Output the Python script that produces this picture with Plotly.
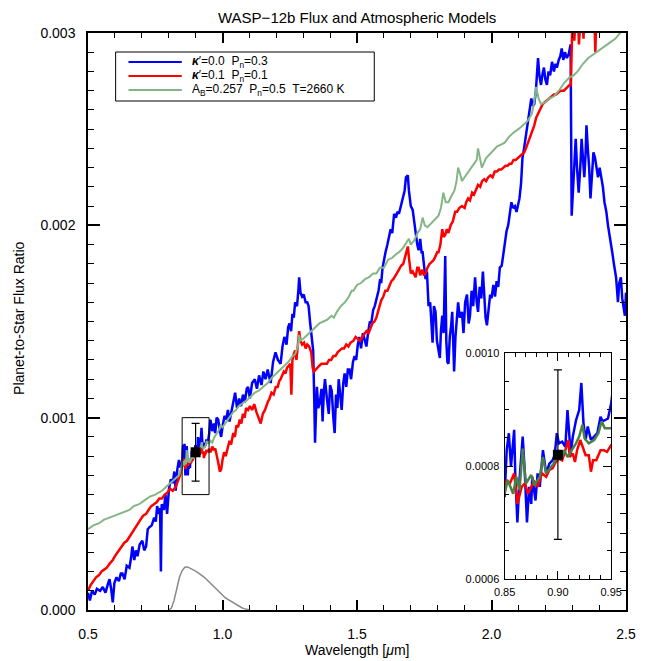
import plotly.graph_objects as go
import numpy as np

# ---------------- data (flux values in units of 1e-3) ----------------
BLUE_WL = [0.500,0.507,0.515,0.525,0.533,0.545,0.555,0.565,0.575,0.580,0.586,0.592,0.598,0.606,0.615,0.622,0.628,0.636,0.644,0.654,
0.660,0.665,0.672,0.678,0.684,0.692,0.702,0.709,0.716,0.722,0.728,0.737,0.746,0.752,0.757,0.764,0.768,0.771,0.774,0.782,
0.788,0.794,0.801,0.808,0.815,0.821,0.826,0.832,0.838,0.844,0.849,
0.850,0.852,0.854,0.856,0.859,0.860,0.862,0.864,0.867,0.869,0.871,0.873,0.875,0.876,0.879,0.881,0.883,0.886,0.889,0.892,
0.895,0.897,0.899,0.901,0.904,0.907,0.909,0.912,0.914,0.917,0.920,0.922,0.924,0.926,0.928,0.931,0.934,0.937,0.940,0.942,
0.944,0.947,0.950,
0.955,0.962,0.968,0.973,0.978,0.984,0.990,0.995,1.002,1.008,1.014,1.020,1.026,1.032,1.040,1.047,1.054,1.062,1.069,1.076,
1.083,1.090,1.095,1.102,1.110,1.120,1.128,1.136,1.145,1.152,1.160,1.168,1.174,1.179,1.188,1.197,1.206,1.216,1.223,1.230,
1.238,1.244,1.249,1.255,1.260,1.265,1.270,1.277,1.282,1.285,1.290,1.296,1.302,1.309,1.315,1.320,1.326,1.332,1.337,1.341,
1.344,1.348,1.351,1.356,1.362,1.368,1.372,1.377,1.381,1.388,1.395,1.400,1.406,1.412,1.417,1.422,1.427,1.432,1.438,1.443,
1.449,1.454,1.460,1.466,1.472,1.478,1.485,1.491,1.497,1.503,1.509,1.515,1.522,1.528,1.535,1.542,1.548,1.553,1.560,1.566,
1.572,1.580,1.586,1.590,1.595,1.600,1.606,1.613,1.620,1.625,1.631,1.638,1.645,1.650,1.656,1.663,1.671,1.677,1.682,1.689,
1.693,1.700,1.707,1.712,1.718,1.724,1.729,1.735,1.740,1.744,1.750,1.755,1.760,1.766,1.772,1.776,1.781,1.786,1.792,1.797,
1.803,1.808,1.812,1.817,1.822,1.828,1.832,1.836,1.840,1.845,1.850,1.854,1.858,1.861,1.866,1.871,1.876,1.882,1.890,1.896,
1.902,1.909,1.915,1.920,1.926,1.932,1.939,1.945,1.950,1.956,1.962,1.968,1.973,1.978,1.983,1.990,1.995,2.000,2.007,2.013,
2.019,2.025,2.031,2.038,2.044,2.050,2.056,2.062,2.068,2.074,2.080,2.087,2.093,2.098,2.104,2.110,2.115,2.121,2.127,2.133,
2.140,2.148,2.154,2.159,2.165,2.170,2.173,2.178,2.184,2.190,2.195,2.200,2.206,2.212,2.218,2.225,2.232,2.238,2.243,2.250,
2.256,2.261,2.267,2.273,2.280,2.287,2.294,2.298,2.302,2.307,2.313,2.318,2.324,2.330,2.335,2.340,2.345,2.350,2.353,2.358,
2.363,2.368,2.373,2.379,2.385,2.390,2.396,2.402,2.408,2.414,2.420,2.427,2.433,2.439,2.445,2.450,2.455,2.460,2.463,2.467,
2.470,2.475,2.481,2.486,2.490,2.496,2.500]
BLUE_F = [0.09,0.05,0.10,0.08,0.11,0.10,0.12,0.09,0.14,0.16,0.11,0.04,0.14,0.17,0.15,0.19,0.19,0.16,0.23,0.22,
0.27,0.33,0.26,0.31,0.28,0.34,0.36,0.31,0.33,0.42,0.43,0.44,0.48,0.46,0.54,0.50,0.53,0.20,0.55,0.52,
0.60,0.50,0.63,0.68,0.66,0.72,0.62,0.73,0.78,0.74,0.77,
0.745,0.828,0.858,0.799,0.864,0.787,0.700,0.775,0.852,0.787,0.700,0.763,0.733,0.781,0.739,0.787,0.763,0.828,0.787,0.804,
0.810,0.819,0.858,0.840,0.843,0.834,0.899,0.822,0.852,0.881,0.899,0.947,0.876,0.846,0.870,0.846,0.852,0.858,0.887,0.879,
0.881,0.884,0.911,
0.99,0.93,0.97,0.92,1.00,0.99,0.93,0.90,0.97,1.01,0.99,1.04,0.98,1.02,1.08,1.13,1.05,1.10,1.06,1.12,
1.08,1.15,1.16,1.10,1.18,1.20,1.15,1.22,1.17,1.24,1.20,1.25,1.21,1.18,1.29,1.34,1.30,1.28,1.37,1.42,
1.38,1.47,1.49,1.45,1.54,1.52,1.60,1.58,1.66,1.73,1.65,1.63,1.64,1.60,1.60,1.58,1.49,1.42,1.35,1.10,
0.87,1.05,1.16,1.05,1.08,1.15,0.98,1.14,1.20,1.10,1.02,1.17,1.14,1.00,0.92,1.12,1.05,1.20,1.12,1.04,
1.18,1.23,1.16,1.25,1.25,1.20,1.29,1.32,1.30,1.38,1.42,1.36,1.44,1.40,1.37,1.45,1.50,1.49,1.56,1.58,
1.61,1.66,1.72,1.70,1.78,1.82,1.86,1.90,1.94,1.98,1.96,2.06,2.04,2.07,2.06,2.10,2.13,2.18,2.25,2.26,
2.18,2.10,2.08,2.02,1.97,1.90,1.87,1.93,1.86,1.86,1.78,1.72,1.76,1.58,1.60,1.50,1.39,1.58,1.55,1.40,
1.35,1.31,1.45,1.53,1.44,1.84,1.40,1.29,1.28,1.42,1.48,1.55,1.38,1.24,1.42,1.50,1.60,1.52,1.55,1.44,
1.60,1.64,1.49,1.53,1.66,1.58,1.73,1.60,1.55,1.68,1.62,1.76,1.60,1.52,1.48,1.60,1.64,1.62,1.69,1.63,
1.71,1.68,1.78,1.79,1.85,1.92,1.97,2.00,2.07,2.12,2.09,2.10,2.07,2.11,2.14,2.22,2.35,2.40,2.46,2.52,
2.58,2.66,2.62,2.63,2.70,2.80,2.87,2.78,2.73,2.79,2.82,2.76,2.73,2.80,2.78,2.85,2.80,2.84,2.82,2.86,
2.88,2.92,2.86,2.90,2.87,2.89,2.94,2.05,2.15,2.30,2.45,2.30,2.17,2.30,2.45,2.35,2.25,2.38,2.52,2.40,
2.30,2.14,2.28,2.38,2.35,2.31,2.25,2.30,2.25,2.20,2.12,2.07,2.00,1.95,1.91,1.85,1.80,1.76,1.73,1.66,
1.60,1.70,1.73,1.62,1.58,1.53,1.65]

RED_WL = [0.500,0.510,0.520,0.530,0.540,0.550,0.560,0.570,0.580,0.592,0.605,0.615,0.625,0.635,0.645,0.654,0.665,0.675,0.685,0.695,
0.705,0.716,0.725,0.735,0.745,0.755,0.765,0.775,0.785,0.795,0.805,0.815,0.826,0.835,0.842,0.848,
0.850,0.852,0.855,0.859,0.862,0.866,0.869,0.872,0.875,0.878,0.881,0.885,0.889,0.892,0.895,0.898,0.901,0.904,0.907,0.910,
0.911,0.914,0.916,0.918,0.921,0.924,0.926,0.929,0.931,0.933,0.936,0.940,0.943,0.946,0.950,
0.955,0.962,0.968,0.973,0.980,0.985,0.990,0.995,1.000,1.006,1.012,1.020,1.026,1.032,1.040,1.046,1.052,1.058,1.064,1.070,
1.076,1.082,1.088,1.095,1.102,1.110,1.118,1.126,1.134,1.142,1.150,1.158,1.168,1.175,1.182,1.190,1.198,1.205,1.211,1.216,
1.222,1.228,1.234,1.240,1.246,1.252,1.256,1.260,1.265,1.270,1.275,1.280,1.285,1.290,1.296,1.303,1.309,1.315,1.322,1.330,
1.335,1.340,1.346,1.352,1.360,1.368,1.376,1.388,1.396,1.404,1.412,1.420,1.428,1.436,1.444,1.452,1.460,1.468,1.476,1.487,
1.495,1.503,1.511,1.520,1.528,1.535,1.543,1.550,1.557,1.565,1.572,1.580,1.585,1.590,1.598,1.605,1.613,1.620,1.628,1.635,
1.642,1.648,1.656,1.664,1.672,1.680,1.686,1.689,1.694,1.700,1.707,1.713,1.718,1.724,1.729,1.735,1.742,1.749,1.755,1.762,
1.770,1.778,1.785,1.792,1.798,1.803,1.810,1.817,1.822,1.828,1.834,1.840,1.848,1.856,1.865,1.872,1.880,1.890,1.900,1.906,
1.913,1.920,1.928,1.935,1.943,1.950,1.958,1.965,1.973,1.980,1.988,1.996,2.004,2.012,2.020,2.028,2.036,2.044,2.052,2.060,
2.067,2.074,2.082,2.090,2.098,2.106,2.115,2.122,2.128,2.133,2.140,2.146,2.153,2.159,2.166,2.172,2.178,2.184,2.190,2.198,
2.206,2.214,2.222,2.232,2.240,2.248,2.256,2.264,2.269,2.276,2.283,2.290,2.295,2.298,2.303,2.308,2.313,2.318,2.325,2.330,
2.336,2.342,2.348,2.356,2.364,2.372,2.380,2.386,2.392,2.400,2.420,2.440,2.460,2.480,2.500]
RED_F = [0.10,0.13,0.15,0.17,0.18,0.20,0.21,0.22,0.24,0.26,0.29,0.31,0.33,0.35,0.36,0.38,0.41,0.43,0.45,0.47,
0.49,0.50,0.52,0.54,0.55,0.56,0.58,0.58,0.60,0.61,0.63,0.62,0.64,0.67,0.70,0.74,
0.757,0.775,0.769,0.787,0.733,0.763,0.769,0.751,0.763,0.772,0.763,0.787,0.781,0.793,0.796,0.807,0.813,0.810,0.828,0.846,
0.816,0.822,0.807,0.828,0.846,0.828,0.819,0.819,0.790,0.810,0.810,0.828,0.828,0.825,0.837,
0.82,0.85,0.83,0.84,0.80,0.76,0.72,0.73,0.78,0.82,0.80,0.85,0.88,0.86,0.92,0.90,0.96,0.95,0.99,0.97,
1.02,1.00,1.05,1.04,1.06,1.04,1.07,1.03,1.00,0.97,1.02,1.04,1.08,1.10,1.13,1.12,1.16,1.16,1.19,1.20,
1.22,1.24,1.23,1.26,1.27,1.28,1.12,1.30,1.33,1.35,1.30,1.40,1.45,1.40,1.38,1.39,1.36,1.38,1.37,1.34,
1.26,1.24,1.25,1.26,1.27,1.28,1.28,1.28,1.30,1.30,1.32,1.32,1.34,1.35,1.36,1.36,1.38,1.37,1.39,1.40,
1.42,1.41,1.40,1.42,1.44,1.45,1.44,1.47,1.49,1.50,1.52,1.56,1.58,1.61,1.63,1.66,1.66,1.68,1.71,1.72,
1.74,1.75,1.77,1.79,1.80,1.84,1.88,1.89,1.82,1.75,1.76,1.74,1.73,1.78,1.78,1.74,1.77,1.74,1.75,1.78,
1.80,1.81,1.82,1.84,1.86,1.86,1.90,1.98,1.94,1.95,1.98,1.96,2.00,2.02,2.07,2.07,2.09,2.10,2.09,2.12,
2.14,2.13,2.17,2.16,2.19,2.21,2.20,2.23,2.24,2.23,2.25,2.26,2.25,2.28,2.28,2.29,2.29,2.30,2.31,2.31,
2.32,2.32,2.34,2.34,2.35,2.36,2.37,2.38,2.40,2.42,2.44,2.47,2.50,2.52,2.56,2.58,2.60,2.61,2.63,2.64,
2.65,2.66,2.67,2.68,2.68,2.69,2.70,2.70,2.70,2.71,2.72,2.73,2.73,3.05,3.20,2.96,3.15,3.25,2.94,3.10,
3.20,2.97,3.25,3.20,3.10,3.30,3.20,2.90,3.20,3.30,3.35,3.40,3.45,3.50,3.55]

GREEN_WL = [0.500,0.520,0.540,0.560,0.580,0.600,0.620,0.640,0.654,0.670,0.690,0.710,0.730,0.750,0.775,0.790,0.805,0.820,0.838,0.845,
0.850,0.853,0.858,0.861,0.864,0.867,0.870,0.875,0.878,0.883,0.886,0.889,0.893,0.896,0.899,0.903,0.906,0.909,0.913,0.917,
0.920,0.923,0.925,0.929,0.934,0.938,0.941,0.944,0.950,
0.955,0.962,0.970,0.978,0.985,0.993,1.000,1.010,1.020,1.030,1.040,1.050,1.060,1.070,1.080,1.090,1.105,1.120,1.135,1.150,
1.168,1.185,1.200,1.215,1.230,1.245,1.260,1.270,1.280,1.285,1.289,1.300,1.315,1.330,1.345,1.360,1.375,1.390,1.405,1.414,
1.425,1.440,1.455,1.470,1.480,1.487,1.500,1.515,1.530,1.545,1.560,1.572,1.585,1.600,1.615,1.630,1.645,1.656,1.670,1.685,
1.693,1.700,1.712,1.725,1.735,1.744,1.752,1.762,1.775,1.790,1.803,1.812,1.821,1.830,1.840,1.850,1.862,1.870,1.876,1.883,
1.890,1.900,1.915,1.930,1.945,1.950,1.958,1.964,1.980,2.000,2.020,2.035,2.049,2.065,2.080,2.100,2.115,2.133,2.150,2.160,
2.166,2.175,2.184,2.200,2.215,2.232,2.250,2.270,2.290,2.305,2.320,2.340,2.360,2.379,2.400,2.420,2.440,2.460,2.478,2.500]
GREEN_F = [0.42,0.44,0.45,0.47,0.48,0.49,0.50,0.51,0.52,0.54,0.55,0.57,0.59,0.60,0.62,0.64,0.66,0.68,0.70,0.73,
0.751,0.775,0.751,0.781,0.757,0.831,0.769,0.784,0.766,0.781,0.816,0.787,0.796,0.804,0.819,0.813,0.828,0.816,0.828,0.840,
0.852,0.873,0.849,0.840,0.846,0.858,0.879,0.867,0.867,
0.88,0.87,0.90,0.92,0.93,0.96,0.95,0.97,0.99,1.01,1.03,1.04,1.06,1.07,1.08,1.09,1.11,1.13,1.14,1.16,
1.18,1.21,1.23,1.25,1.27,1.29,1.32,1.33,1.37,1.43,1.40,1.41,1.43,1.45,1.47,1.49,1.50,1.51,1.53,1.52,
1.55,1.58,1.60,1.63,1.66,1.66,1.69,1.70,1.72,1.73,1.75,1.75,1.78,1.78,1.82,1.83,1.85,1.86,1.88,1.91,
1.93,1.90,1.92,1.96,1.98,2.04,2.00,1.99,2.01,2.03,2.05,2.09,2.17,2.12,2.12,2.15,2.18,2.23,2.30,2.27,
2.23,2.25,2.28,2.31,2.34,2.40,2.33,2.30,2.35,2.38,2.41,2.42,2.43,2.46,2.48,2.50,2.52,2.54,2.58,2.65,
2.72,2.66,2.63,2.64,2.66,2.67,2.70,2.74,2.77,2.78,2.80,2.84,2.87,2.89,2.91,2.93,2.95,2.97,3.00,3.02]

FILTER_WL = [0.80,0.81,0.82,0.83,0.84,0.85,0.86,0.87,0.88,0.89,0.90,0.91,0.92,0.93,0.94,0.95,0.96,0.97,0.98,0.99,
1.00,1.01,1.02,1.03,1.04,1.05,1.06,1.07,1.08,1.09,1.10]
FILTER_F = [0.000,0.010,0.050,0.110,0.170,0.205,0.222,0.224,0.218,0.210,0.202,0.193,0.184,0.172,0.160,0.146,0.132,0.117,0.102,0.088,
0.075,0.064,0.055,0.046,0.037,0.028,0.020,0.013,0.007,0.003,0.000]

OBS_WL = [0.90]
OBS_F = [0.82]
OBS_ERR = [0.15]

LEGEND_LABELS = ["<i><b>κ</b></i>′=0.0  P<sub>n</sub>=0.3",
                 "<i><b>κ</b></i>′=0.1  P<sub>n</sub>=0.1",
                 "A<sub>B</sub>=0.257  P<sub>n</sub>=0.5  T=2660 K"]

S = 1e-3
def sc(a):
    return (np.array(a) * S).tolist()

BLUE = "#0000ff"
RED = "#ff0000"
GREEN = "#84b584"
GREEN_IN = "#4b7f49"
FONT = "Liberation Sans"

fig = go.Figure()

# ---- main panel ----
fig.add_trace(go.Scatter(x=FILTER_WL, y=sc(FILTER_F), mode="lines",
                         line=dict(color="#888888", width=1.5), xaxis="x", yaxis="y"))
fig.add_trace(go.Scatter(x=BLUE_WL, y=sc(BLUE_F), mode="lines",
                         line=dict(color=BLUE, width=2.5), xaxis="x", yaxis="y"))
fig.add_trace(go.Scatter(x=RED_WL, y=sc(RED_F), mode="lines",
                         line=dict(color=RED, width=2.5), xaxis="x", yaxis="y"))
fig.add_trace(go.Scatter(x=GREEN_WL, y=sc(GREEN_F), mode="lines",
                         line=dict(color=GREEN, width=2), xaxis="x", yaxis="y"))
fig.add_trace(go.Scatter(x=OBS_WL, y=sc(OBS_F), mode="markers",
                         marker=dict(symbol="square", size=10, color="black"),
                         error_y=dict(type="data", array=sc(OBS_ERR), color="black",
                                      thickness=1.2, width=4),
                         xaxis="x", yaxis="y"))

# ---- inset ----
fig.add_trace(go.Scatter(x=BLUE_WL, y=sc(BLUE_F), mode="lines",
                         line=dict(color=BLUE, width=2.5), xaxis="x2", yaxis="y2"))
fig.add_trace(go.Scatter(x=RED_WL, y=sc(RED_F), mode="lines",
                         line=dict(color=RED, width=2.5), xaxis="x2", yaxis="y2"))
fig.add_trace(go.Scatter(x=GREEN_WL, y=sc(GREEN_F), mode="lines",
                         line=dict(color=GREEN_IN, width=2.5), xaxis="x2", yaxis="y2"))
fig.add_trace(go.Scatter(x=OBS_WL, y=sc(OBS_F), mode="markers",
                         marker=dict(symbol="square", size=10, color="black"),
                         error_y=dict(type="data", array=sc(OBS_ERR), color="black",
                                      thickness=1.2, width=4),
                         xaxis="x2", yaxis="y2"))

# plot area in screen pixels (page body margin removed below)
W, H = 649, 661
L, R, T, B = 88, 633, 33, 610
pw, ph = R - L, B - T

def px(xp):  # screen pixel x -> paper
    return (xp - L) / pw
def py(yp):  # screen pixel y -> paper
    return (B - yp) / ph

axis_common = dict(showline=True, linecolor="black", linewidth=1.5, mirror="allticks",
                   ticks="inside", tickcolor="black", showgrid=False, zeroline=False,
                   tickfont=dict(family=FONT, size=14, color="black"))

fig.update_layout(
    width=W, height=H,
    margin=dict(l=L, r=W - R, t=T, b=H - B, pad=0),
    paper_bgcolor="white", plot_bgcolor="white",
    showlegend=False,
    xaxis=dict(range=[0.5, 2.5], dtick=0.5, tickformat=".1f", ticklen=10, tickwidth=1.5,
               minor=dict(dtick=0.1, ticklen=5, tickwidth=1.2, ticks="inside", tickcolor="black"),
               ticklabelstandoff=10, **axis_common),
    yaxis=dict(range=[0, 0.003], dtick=0.001, tickformat=".3f", ticklen=12, tickwidth=1.5,
               minor=dict(dtick=0.0001, ticklen=6, tickwidth=1.2, ticks="inside", tickcolor="black"),
               ticklabelstandoff=8, **axis_common),
    xaxis2=dict(domain=[px(510), px(618)], anchor="y2", range=[0.85, 0.95],
                tickvals=[0.85, 0.90, 0.95], ticktext=["0.85", "0.90", "0.95"], ticklen=8, tickwidth=1.2,
                minor=dict(dtick=0.01, ticklen=4, ticks="inside", tickcolor="black"),
                ticklabelstandoff=3,
                **{**axis_common, "linewidth": 1.2, "tickfont": dict(family=FONT, size=11, color="black")}),
    yaxis2=dict(domain=[py(579), py(353)], anchor="x2", range=[0.0006, 0.0010],
                tickvals=[0.0006, 0.0008, 0.0010], ticktext=["0.0006", "0.0008", "0.0010"],
                ticklen=8, tickwidth=1.2,
                minor=dict(dtick=0.00005, ticklen=4, ticks="inside", tickcolor="black"),
                ticklabelstandoff=2,
                **{**axis_common, "linewidth": 1.2, "tickfont": dict(family=FONT, size=11, color="black")}),
)

shapes = []
# zoom box on main panel
shapes.append(dict(type="rect", xref="x", yref="y", x0=0.85, x1=0.95, y0=0.0006, y1=0.0010,
                   line=dict(color="black", width=1)))
# legend box
shapes.append(dict(type="rect", xref="paper", yref="paper", x0=px(116), x1=px(378),
                   y0=py(101), y1=py(52), line=dict(color="black", width=1), fillcolor="white",
                   layer="above"))
legend_colors = [BLUE, RED, GREEN]
legend_y = [62, 76, 90]
annotations = []
for c, yy, lab in zip(legend_colors, legend_y, LEGEND_LABELS):
    shapes.append(dict(type="line", xref="paper", yref="paper", x0=px(129), x1=px(183),
                       y0=py(yy), y1=py(yy), line=dict(color=c, width=2), layer="above"))
    annotations.append(dict(xref="paper", yref="paper", x=px(191), y=py(yy), text=lab,
                            showarrow=False, xanchor="left", yanchor="middle",
                            font=dict(family=FONT, size=12, color="black")))

annotations.append(dict(xref="paper", yref="paper", x=0.5, y=py(17), text="WASP−12b Flux and Atmospheric Models",
                        showarrow=False, xanchor="center", yanchor="middle",
                        font=dict(family=FONT, size=15, color="black")))
annotations.append(dict(xref="paper", yref="paper", x=0.5, y=py(650), text="Wavelength [<i>μ</i>m]",
                        showarrow=False, xanchor="center", yanchor="middle",
                        font=dict(family=FONT, size=14, color="black")))
annotations.append(dict(xref="paper", yref="paper", x=px(18), y=py(318), text="Planet-to-Star Flux Ratio",
                        showarrow=False, xanchor="center", yanchor="middle", textangle=-90,
                        font=dict(family=FONT, size=14, color="black")))

fig.update_layout(shapes=shapes, annotations=annotations)
fig.write_html("out.html", config=dict(displayModeBar=False),
               post_script="document.body.style.margin='0';document.body.style.overflow='hidden';")
